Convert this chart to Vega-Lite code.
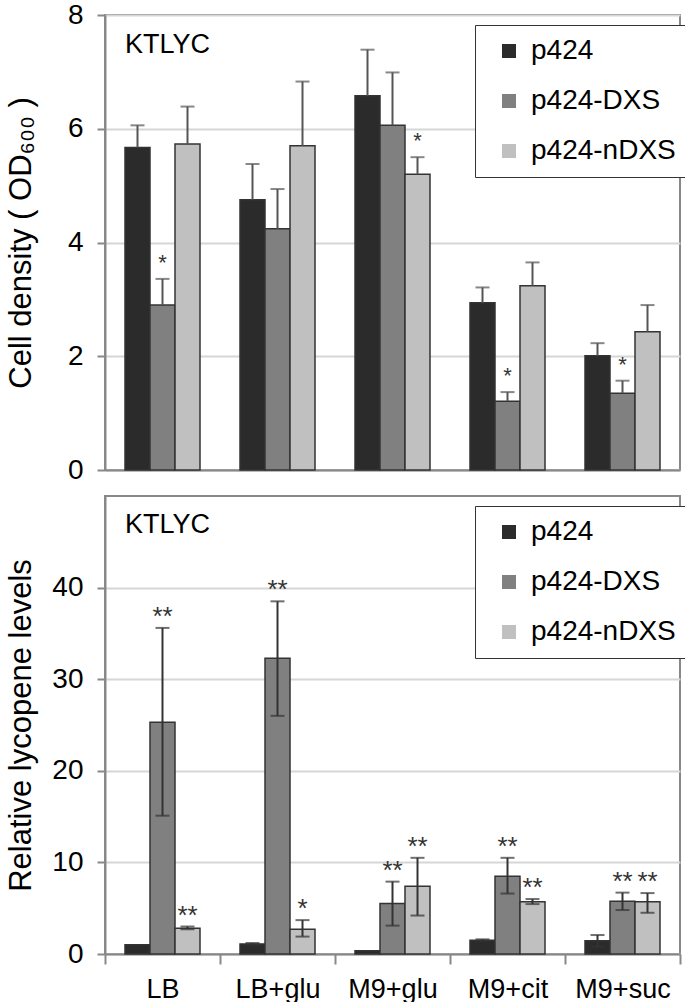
{
  "$schema": "https://vega.github.io/schema/vega-lite/v6.json",
  "padding": {"left": 4, "top": 0, "right": 0, "bottom": 0},
  "background": "white",
  "config": {
    "font": "Liberation Sans",
    "view": {"stroke": "#888888", "strokeWidth": 2},
    "axis": {
      "labelColor": "black", "labelFont": "Liberation Sans", "titleFont": "Liberation Sans",
      "titleColor": "black", "titleFontWeight": "normal",
      "domainColor": "#888888", "domainWidth": 2, "tickColor": "#888888", "tickWidth": 2,
      "gridColor": "#d6d6d6", "gridWidth": 2
    },
    "axisX": {"grid": false},
    "legend": {
      "orient": "none", "legendX": 370, "legendY": 10, "strokeColor": "#333333", "fillColor": "white",
      "padding": 12, "symbolType": "square", "symbolSize": 196, "symbolStrokeWidth": 0, "symbolOffset": 8,
      "labelFontSize": 28, "labelFont": "Liberation Sans", "labelColor": "black", "rowPadding": 22, "labelOffset": 8, "labelLimit": 300
    }
  },
  "datasets": {
    "od": [
      {"cond": "LB", "series": "p424", "value": 5.67, "hi": 6.06, "sig": ""},
      {"cond": "LB", "series": "p424-DXS", "value": 2.9, "hi": 3.36, "sig": "*"},
      {"cond": "LB", "series": "p424-nDXS", "value": 5.73, "hi": 6.39, "sig": ""},
      {"cond": "LB+glu", "series": "p424", "value": 4.75, "hi": 5.38, "sig": ""},
      {"cond": "LB+glu", "series": "p424-DXS", "value": 4.24, "hi": 4.94, "sig": ""},
      {"cond": "LB+glu", "series": "p424-nDXS", "value": 5.7, "hi": 6.83, "sig": ""},
      {"cond": "M9+glu", "series": "p424", "value": 6.58, "hi": 7.39, "sig": ""},
      {"cond": "M9+glu", "series": "p424-DXS", "value": 6.06, "hi": 6.99, "sig": ""},
      {"cond": "M9+glu", "series": "p424-nDXS", "value": 5.2, "hi": 5.5, "sig": "*"},
      {"cond": "M9+cit", "series": "p424", "value": 2.94, "hi": 3.21, "sig": ""},
      {"cond": "M9+cit", "series": "p424-DXS", "value": 1.21, "hi": 1.37, "sig": "*"},
      {"cond": "M9+cit", "series": "p424-nDXS", "value": 3.24, "hi": 3.65, "sig": ""},
      {"cond": "M9+suc", "series": "p424", "value": 2.01, "hi": 2.23, "sig": ""},
      {"cond": "M9+suc", "series": "p424-DXS", "value": 1.35, "hi": 1.57, "sig": "*"},
      {"cond": "M9+suc", "series": "p424-nDXS", "value": 2.43, "hi": 2.9, "sig": ""}
    ],
    "lyc": [
      {"cond": "LB", "series": "p424", "value": 1.0, "sig": ""},
      {"cond": "LB", "series": "p424-DXS", "value": 25.3, "lo": 15.1, "hi": 35.6, "sig": "**"},
      {"cond": "LB", "series": "p424-nDXS", "value": 2.8, "lo": 2.7, "hi": 3.0, "sig": "**"},
      {"cond": "LB+glu", "series": "p424", "value": 1.1, "lo": 1.0, "hi": 1.2, "sig": ""},
      {"cond": "LB+glu", "series": "p424-DXS", "value": 32.3, "lo": 26.0, "hi": 38.5, "sig": "**"},
      {"cond": "LB+glu", "series": "p424-nDXS", "value": 2.7, "lo": 1.9, "hi": 3.7, "sig": "*"},
      {"cond": "M9+glu", "series": "p424", "value": 0.35, "sig": ""},
      {"cond": "M9+glu", "series": "p424-DXS", "value": 5.5, "lo": 3.1, "hi": 7.9, "sig": "**"},
      {"cond": "M9+glu", "series": "p424-nDXS", "value": 7.4, "lo": 4.2, "hi": 10.5, "sig": "**"},
      {"cond": "M9+cit", "series": "p424", "value": 1.5, "lo": 1.4, "hi": 1.6, "sig": ""},
      {"cond": "M9+cit", "series": "p424-DXS", "value": 8.5, "lo": 6.6, "hi": 10.5, "sig": "**"},
      {"cond": "M9+cit", "series": "p424-nDXS", "value": 5.7, "lo": 5.45, "hi": 6.0, "sig": "**"},
      {"cond": "M9+suc", "series": "p424", "value": 1.45, "lo": 0.8, "hi": 2.07, "sig": ""},
      {"cond": "M9+suc", "series": "p424-DXS", "value": 5.75, "lo": 4.8, "hi": 6.7, "sig": "**"},
      {"cond": "M9+suc", "series": "p424-nDXS", "value": 5.7, "lo": 4.5, "hi": 6.65, "sig": "**"}
    ],
    "lab1": [{"cond": "LB", "y": 7.47, "label": "KTLYC"}],
    "lab2": [{"cond": "LB", "y": 46.8, "label": "KTLYC"}]
  },
  "resolve": {"scale": {"color": "independent", "x": "independent", "y": "independent"}, "legend": {"color": "independent"}},
  "spacing": 10,
  "vconcat": [
    {
      "width": 575,
      "height": 455,
      "layer": [
        {
          "data": {"name": "od"},
          "mark": {"type": "bar", "stroke": "#333333", "strokeWidth": 1.5},
          "encoding": {
            "x": {"field": "cond", "type": "nominal", "scale": {"domain": ["LB", "LB+glu", "M9+glu", "M9+cit", "M9+suc"], "paddingInner": 0, "paddingOuter": 0}, "axis": {"labels": false, "ticks": false, "title": null}},
            "xOffset": {"field": "series", "type": "nominal", "scale": {"domain": ["p424", "p424-DXS", "p424-nDXS"], "paddingInner": 0, "paddingOuter": 0.8}},
            "y": {"field": "value", "type": "quantitative", "scale": {"domain": [0, 8], "nice": false}, "axis": {"values": [0, 2, 4, 6, 8], "format": "d", "title": "Cell density ( OD₆₀₀ )", "titleFontSize": 31, "titlePadding": 30, "labelFontSize": 28, "labelPadding": 14, "tickSize": 8}},
            "color": {"field": "series", "type": "nominal", "scale": {"domain": ["p424", "p424-DXS", "p424-nDXS"], "range": ["#2b2b2b", "#808080", "#c0c0c0"]}, "legend": {"title": null, "encode": {"legend": {"update": {"strokeWidth": {"value": 2}}}}}}
          }
        },
        {
          "data": {"name": "od"},
          "mark": {"type": "rule", "color": "#555555", "strokeWidth": 2},
          "encoding": {
            "x": {"field": "cond", "type": "nominal"},
            "xOffset": {"field": "series", "type": "nominal"},
            "y": {"field": "value", "type": "quantitative"},
            "y2": {"field": "hi"}
          }
        },
        {
          "data": {"name": "od"},
          "mark": {"type": "tick", "color": "#555555", "thickness": 2, "size": 14},
          "encoding": {
            "x": {"field": "cond", "type": "nominal"},
            "xOffset": {"field": "series", "type": "nominal"},
            "y": {"field": "hi", "type": "quantitative"}
          }
        },
        {
          "data": {"name": "od"},
          "transform": [{"filter": "datum.sig != ''"}],
          "mark": {"type": "text", "fontSize": 22, "color": "#333333", "baseline": "alphabetic", "dy": -9},
          "encoding": {
            "x": {"field": "cond", "type": "nominal"},
            "xOffset": {"field": "series", "type": "nominal"},
            "y": {"field": "hi", "type": "quantitative"},
            "text": {"field": "sig"}
          }
        },
        {
          "data": {"name": "lab1"},
          "mark": {"type": "text", "fontSize": 27, "color": "black", "align": "center", "baseline": "middle", "dx": 5},
          "encoding": {
            "x": {"field": "cond", "type": "nominal"},
            "y": {"field": "y", "type": "quantitative"},
            "text": {"field": "label"}
          }
        }
      ]
    },
    {
      "width": 575,
      "height": 458,
      "layer": [
        {
          "data": {"name": "lyc"},
          "mark": {"type": "bar", "stroke": "#333333", "strokeWidth": 1.5},
          "encoding": {
            "x": {"field": "cond", "type": "nominal", "scale": {"domain": ["LB", "LB+glu", "M9+glu", "M9+cit", "M9+suc"], "paddingInner": 0, "paddingOuter": 0}, "axis": {"title": null, "labelAngle": 0, "labelFontSize": 27, "tickBand": "extent", "tickSize": 10, "labelPadding": 12}},
            "xOffset": {"field": "series", "type": "nominal", "scale": {"domain": ["p424", "p424-DXS", "p424-nDXS"], "paddingInner": 0, "paddingOuter": 0.8}},
            "y": {"field": "value", "type": "quantitative", "scale": {"domain": [0, 50], "nice": false}, "axis": {"values": [0, 10, 20, 30, 40], "title": "Relative  lycopene  levels", "titleFontSize": 31, "titlePadding": 14, "labelFontSize": 28, "labelPadding": 14, "tickSize": 8}},
            "color": {"field": "series", "type": "nominal", "scale": {"domain": ["p424", "p424-DXS", "p424-nDXS"], "range": ["#2b2b2b", "#808080", "#c0c0c0"]}, "legend": {"title": null, "encode": {"legend": {"update": {"strokeWidth": {"value": 2}}}}}}
          }
        },
        {
          "data": {"name": "lyc"},
          "mark": {"type": "rule", "color": "#333333", "strokeWidth": 2},
          "encoding": {
            "x": {"field": "cond", "type": "nominal"},
            "xOffset": {"field": "series", "type": "nominal"},
            "y": {"field": "lo", "type": "quantitative"},
            "y2": {"field": "hi"}
          }
        },
        {
          "data": {"name": "lyc"},
          "mark": {"type": "tick", "color": "#333333", "thickness": 2, "size": 14},
          "encoding": {
            "x": {"field": "cond", "type": "nominal"},
            "xOffset": {"field": "series", "type": "nominal"},
            "y": {"field": "hi", "type": "quantitative"}
          }
        },
        {
          "data": {"name": "lyc"},
          "mark": {"type": "tick", "color": "#333333", "thickness": 2, "size": 14},
          "encoding": {
            "x": {"field": "cond", "type": "nominal"},
            "xOffset": {"field": "series", "type": "nominal"},
            "y": {"field": "lo", "type": "quantitative"}
          }
        },
        {
          "data": {"name": "lyc"},
          "transform": [{"filter": "datum.sig != ''"}],
          "mark": {"type": "text", "fontSize": 26, "color": "#333333", "baseline": "alphabetic", "dy": -3},
          "encoding": {
            "x": {"field": "cond", "type": "nominal"},
            "xOffset": {"field": "series", "type": "nominal"},
            "y": {"field": "hi", "type": "quantitative"},
            "text": {"field": "sig"}
          }
        },
        {
          "data": {"name": "lab2"},
          "mark": {"type": "text", "fontSize": 27, "color": "black", "align": "center", "baseline": "middle", "dx": 5},
          "encoding": {
            "x": {"field": "cond", "type": "nominal"},
            "y": {"field": "y", "type": "quantitative"},
            "text": {"field": "label"}
          }
        }
      ]
    }
  ]
}
